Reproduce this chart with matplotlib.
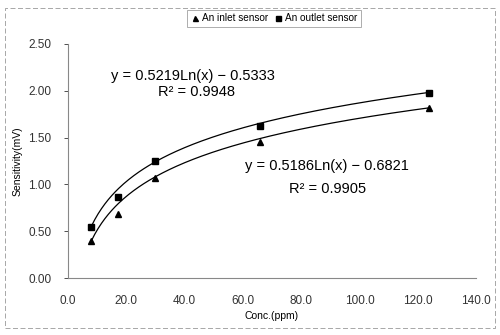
import numpy as np
import matplotlib
matplotlib.use("Agg")
import matplotlib.pyplot as plt
from matplotlib.patches import Rectangle

plt.rcParams['font.family'] = ['Liberation Sans', 'DejaVu Sans']

# measured points
conc = [8, 17, 30, 66, 124]
inlet = [0.40, 0.68, 1.07, 1.45, 1.82]
outlet = [0.55, 0.87, 1.25, 1.62, 1.98]

# log trend lines  y = a*ln(x) + b
inlet_fit = (0.5186, -0.6821)
outlet_fit = (0.5219, -0.5333)
inlet_r2 = 0.9905
outlet_r2 = 0.9948

xticks = [0, 20, 40, 60, 80, 100, 120, 140]
yticks = [0.0, 0.5, 1.0, 1.5, 2.0, 2.5]

fig = plt.figure(figsize=(5, 3.35), dpi=100)
ax = fig.add_axes([0.136, 0.170, 0.816, 0.699])

xs = np.linspace(min(conc), max(conc), 200)
ax.plot(xs, outlet_fit[0] * np.log(xs) + outlet_fit[1], color='black', lw=0.9)
ax.plot(xs, inlet_fit[0] * np.log(xs) + inlet_fit[1], color='black', lw=0.9)
ax.plot(conc, inlet, '^', color='black', ms=4.5, ls='none', label='An inlet sensor')
ax.plot(conc, outlet, 's', color='black', ms=4.5, ls='none', label='An outlet sensor')

ax.set_xlim(0, 140)
ax.set_ylim(0, 2.5)
ax.set_xticks(xticks)
ax.set_xticklabels([f"{v:.1f}" for v in xticks])
ax.set_yticks(yticks)
ax.set_yticklabels([f"{v:.2f}" for v in yticks])
ax.tick_params(axis='y', length=3, width=0.6, pad=9, labelsize=8.5, colors='#333333')
ax.tick_params(axis='x', length=0, pad=12, labelsize=8.5, colors='#333333')
for s in ['top', 'right']:
    ax.spines[s].set_visible(False)
for s in ['left', 'bottom']:
    ax.spines[s].set_color('#888888')
    ax.spines[s].set_linewidth(0.8)

ax.set_xlabel('Conc.(ppm)', fontsize=7.5, labelpad=3)
ax.set_ylabel('Sensitivity(mV)', fontsize=7.5, labelpad=4)

ax.text(43, 2.16, f"y = {outlet_fit[0]}Ln(x) \u2212 {abs(outlet_fit[1])}", fontsize=10.5, ha='center', va='center')
ax.text(44, 1.99, f"R\u00b2 = {outlet_r2}", fontsize=10.5, ha='center', va='center')
ax.text(89, 1.20, f"y = {inlet_fit[0]}Ln(x) \u2212 {abs(inlet_fit[1])}", fontsize=10.5, ha='center', va='center')
ax.text(89, 0.95, f"R\u00b2 = {inlet_r2}", fontsize=10.5, ha='center', va='center')

leg = fig.legend(loc='center', bbox_to_anchor=(0.548, 0.946), ncol=2, fontsize=7.2,
                 frameon=True, fancybox=False, edgecolor='#888888', handlelength=0.8,
                 handletextpad=0.3, columnspacing=0.6, borderpad=0.35, markerscale=0.8)
leg.get_frame().set_linewidth(0.6)

fig.patches.append(Rectangle((0.01, 0.02), 0.98, 0.955, transform=fig.transFigure,
                             fill=False, ls=(0, (6, 3)), lw=0.6, ec='#999999'))

fig.savefig('out.png', dpi=100)
